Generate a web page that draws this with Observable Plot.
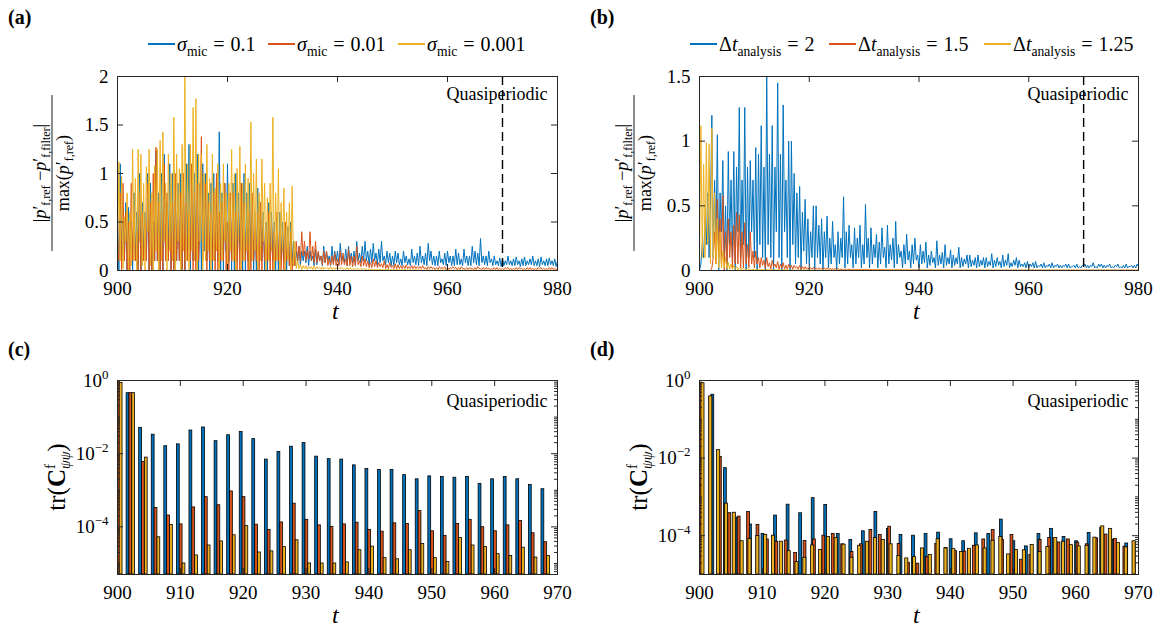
<!DOCTYPE html>
<html><head><meta charset="utf-8">
<script src="https://cdn.jsdelivr.net/npm/d3@7"></script>
<script src="https://cdn.jsdelivr.net/npm/@observablehq/plot@0.6"></script>
<style>
body{margin:0;background:#fff;width:1163px;height:632px;position:relative;overflow:hidden;font-family:"Liberation Serif","Times New Roman",serif;color:#000;}
svg text, svg tspan{font-family:"Liberation Serif","Times New Roman",serif !important;}
.abs{position:absolute;}
.plabel{font-weight:bold;font-size:20px;}
.item{position:absolute;top:33px;display:flex;align-items:center;font-size:20px;white-space:nowrap;line-height:22px;}
.sw{display:inline-block;width:27px;height:1.2px;margin-right:2px;}
.eq{margin:0 6px;}
sub{font-size:0.68em;vertical-align:-0.35em;line-height:0;}
.tlab{font-style:italic;font-size:24px;}
</style></head><body>
<div class="abs plabel" style="left:8px;top:6px">(a)</div>
<div class="abs plabel" style="left:590px;top:6px">(b)</div>
<div class="abs plabel" style="left:8px;top:338px">(c)</div>
<div class="abs plabel" style="left:590px;top:338px">(d)</div>
<span class="item" style="left:148px"><span class="sw" style="background:#0072BD"></span><span><i>σ</i><sub>mic</sub><span class="eq">=</span>0.1</span></span>
<span class="item" style="left:268px"><span class="sw" style="background:#D95319"></span><span><i>σ</i><sub>mic</sub><span class="eq">=</span>0.01</span></span>
<span class="item" style="left:398px"><span class="sw" style="background:#EDB120"></span><span><i>σ</i><sub>mic</sub><span class="eq">=</span>0.001</span></span>
<span class="item" style="left:690px"><span class="sw" style="background:#0072BD"></span><span>Δ<i>t</i><sub>analysis</sub><span class="eq">=</span>2</span></span>
<span class="item" style="left:829px"><span class="sw" style="background:#D95319"></span><span>Δ<i>t</i><sub>analysis</sub><span class="eq">=</span>1.5</span></span>
<span class="item" style="left:984px"><span class="sw" style="background:#EDB120"></span><span>Δ<i>t</i><sub>analysis</sub><span class="eq">=</span>1.25</span></span>
<div class="abs tlab" style="left:332px;top:298px">t</div>
<div class="abs tlab" style="left:913px;top:298px">t</div>
<div class="abs tlab" style="left:332px;top:602px">t</div>
<div class="abs tlab" style="left:913px;top:602px">t</div>
<script>
// ---------- data: panel (a), t = 900 + 0.25*i ----------
const T0 = 900, DT = 0.25;
const sigmaBlueA = [
0.6,0.0,1.1,0.1, 0.5,0.1,0.7,0.0, 0.65,0.2,0.5,0.0, 0.8,0.1,0.6,0.0, 1.0,0.0,0.7,0.2,
0.6,0.1,1.0,0.0, 0.9,0.0,0.5,0.1, 1.23,0.1,0.8,0.0, 1.0,0.0,1.2,0.1, 0.7,0.2,1.1,0.0,
1.0,0.0,0.8,0.1, 0.9,0.1,1.0,0.0, 0.8,0.0,1.1,0.2, 1.3,0.0,0.9,0.1, 1.0,0.1,1.2,0.0,
0.9,0.0,1.1,0.2, 1.0,0.1,0.8,0.0, 0.9,0.0,1.0,0.1, 0.7,0.1,1.43,0.0, 0.8,0.0,0.9,0.2,
1.1,0.1,0.8,0.0, 0.9,0.0,1.0,0.1, 0.8,0.2,0.9,0.0, 1.0,0.0,0.8,0.1, 0.9,0.1,0.7,0.0,
0.6,0.0,0.85,0.2, 0.7,0.1,0.6,0.0, 0.5,0.0,0.7,0.1, 0.6,0.1,0.5,0.0, 0.55,0.0,0.6,0.1,
0.5,0.1,0.4,0.0, 0.45,0.05,0.5,0.1, 0.3,0.05,0.2,0.08, 0.25,0.05,0.2,0.1, 0.2,0.08,0.25,0.05,
0.2,0.1,0.15,0.05, 0.22,0.06,0.18,0.1, 0.15,0.05,0.25,0.08, 0.2,0.1,0.15,0.05, 0.25,0.08,0.2,0.1,
0.2,0.06,0.28,0.1, 0.15,0.08,0.22,0.05, 0.25,0.1,0.18,0.08, 0.2,0.05,0.3,0.1, 0.18,0.08,0.25,0.1,
0.3,0.1,0.2,0.06, 0.22,0.08,0.28,0.1, 0.18,0.06,0.22,0.08, 0.3,0.1,0.15,0.06, 0.2,0.08,0.18,0.05,
0.15,0.05,0.2,0.08, 0.18,0.06,0.12,0.05, 0.2,0.08,0.15,0.06, 0.12,0.05,0.22,0.08, 0.15,0.06,0.18,0.05,
0.25,0.08,0.15,0.06, 0.18,0.05,0.28,0.1, 0.2,0.06,0.15,0.05, 0.15,0.05,0.2,0.08, 0.12,0.06,0.18,0.05,
0.2,0.08,0.15,0.05, 0.15,0.05,0.22,0.06, 0.18,0.06,0.12,0.05, 0.22,0.08,0.15,0.05, 0.15,0.05,0.25,0.08,
0.2,0.06,0.18,0.05, 0.33,0.08,0.15,0.06, 0.15,0.05,0.2,0.08, 0.12,0.05,0.15,0.06, 0.1,0.05,0.13,0.04,
0.12,0.05,0.1,0.06, 0.15,0.06,0.1,0.05, 0.12,0.05,0.14,0.06, 0.1,0.04,0.12,0.05, 0.14,0.05,0.1,0.06,
0.12,0.06,0.15,0.05, 0.1,0.05,0.12,0.04, 0.14,0.06,0.1,0.05, 0.12,0.05,0.13,0.06, 0.1,0.05,0.12,0.04,
0.1];
const sigmaOrangeA = [
0.3,0.1,0.8,0.0, 0.9,0.1,0.6,0.0, 0.5,0.0,0.9,0.1, 0.6,0.1,0.4,0.0, 0.8,0.0,0.6,0.1,
0.5,0.1,0.9,0.0, 0.7,0.0,1.0,0.1, 1.27,0.1,0.7,0.0, 0.6,0.0,1.1,0.1, 0.8,0.1,0.6,0.0,
0.7,0.0,1.0,0.1, 0.5,0.1,0.8,0.0, 1.0,0.0,0.7,0.1, 0.6,0.1,1.1,0.0, 0.8,0.0,0.9,0.1,
0.5,1.38,0.1,0.6, 0.9,0.0,0.7,0.1, 0.6,0.1,0.8,0.0, 1.0,0.0,0.6,0.1, 0.7,0.1,0.9,0.0,
0.5,0.0,0.8,0.1, 0.8,0.1,0.6,0.0, 0.6,0.0,0.9,0.1, 0.7,0.1,0.5,0.0, 0.6,0.0,0.8,0.1,
0.5,0.1,0.6,0.0, 0.7,0.0,0.5,0.1, 0.4,0.1,0.6,0.0, 0.5,0.0,0.4,0.1, 0.6,0.1,0.4,0.0,
0.4,0.0,0.5,0.1, 0.3,0.05,0.4,0.0, 0.2,0.05,0.3,0.1, 0.25,0.1,0.4,0.15, 0.3,0.1,0.2,0.12,
0.4,0.1,0.25,0.08, 0.3,0.08,0.2,0.1, 0.15,0.06,0.2,0.08, 0.2,0.05,0.12,0.06, 0.15,0.06,0.18,0.05,
0.12,0.05,0.2,0.06, 0.18,0.06,0.12,0.05, 0.22,0.05,0.15,0.04, 0.15,0.05,0.25,0.06, 0.1,0.04,0.15,0.05,
0.12,0.04,0.1,0.03, 0.08,0.03,0.12,0.04, 0.1,0.03,0.08,0.04, 0.07,0.03,0.1,0.02, 0.06,0.02,0.08,0.03,
0.05,0.02,0.07,0.02, 0.06,0.02,0.05,0.02, 0.05,0.02,0.06,0.02, 0.04,0.02,0.05,0.02, 0.05,0.02,0.04,0.02,
0.04,0.02,0.05,0.02, 0.03,0.01,0.04,0.02, 0.04,0.02,0.03,0.01, 0.03,0.01,0.04,0.02, 0.03,0.02,0.04,0.01,
0.03,0.01,0.03,0.02, 0.04,0.02,0.03,0.01, 0.03,0.01,0.04,0.02, 0.02,0.01,0.03,0.01, 0.03,0.02,0.02,0.01,
0.03,0.01,0.04,0.02, 0.02,0.01,0.03,0.01, 0.03,0.02,0.02,0.01, 0.02,0.01,0.03,0.01, 0.03,0.01,0.02,0.01,
0.02,0.01,0.03,0.02, 0.03,0.01,0.02,0.01, 0.02,0.01,0.03,0.01, 0.03,0.02,0.02,0.01, 0.02,0.01,0.03,0.01,
0.03,0.01,0.02,0.01, 0.02,0.01,0.03,0.02, 0.03,0.01,0.02,0.01, 0.02,0.01,0.03,0.01, 0.03,0.01,0.02,0.01,
0.02];
const sigmaYellowA = [
0.05,1.12,0.1,0.97, 0.02,0.55,0.3,0.8, 0.0,0.6,0.05,1.25, 0.1,0.95,0.0,1.25, 0.3,1.2,0.05,0.9,
0.0,1.07,0.4,1.25, 0.05,0.8,0.0,1.08, 0.2,1.25,0.0,1.34, 0.1,1.43,0.3,0.9, 0.0,1.2,0.2,1.0,
0.1,1.58,0.0,1.2, 0.3,1.05,0.0,1.3, 0.2,2.0,0.1,1.1, 0.0,1.3,0.2,1.68, 0.1,1.77,0.0,1.2,
0.3,1.2,0.0,1.0, 0.1,1.3,0.2,0.95, 0.0,1.2,0.1,0.85, 0.2,1.1,0.0,0.9, 0.1,1.1,0.3,0.8,
0.0,0.9,0.2,1.25, 0.1,1.0,0.0,1.05, 0.3,1.28,0.0,0.9, 0.1,1.1,0.2,0.95, 0.0,1.53,0.1,1.0,
0.2,1.15,0.0,0.8, 0.1,1.15,0.3,0.9, 0.0,0.75,0.1,0.9, 0.2,1.58,0.0,0.8, 0.1,1.05,0.0,0.7,
0.2,0.85,0.0,0.6, 0.1,0.7,0.0,0.87, 0.05,0.3,0.02,0.1, 0.02,0.06,0.01,0.05, 0.02,0.05,0.01,0.04,
0.02,0.04,0.01,0.05, 0.01,0.04,0.02,0.03, 0.01,0.04,0.01,0.03, 0.02,0.03,0.01,0.04, 0.01,0.03,0.01,0.03,
0.01,0.03,0.02,0.03, 0.01,0.02,0.01,0.03, 0.01,0.03,0.01,0.02, 0.01,0.02,0.01,0.02, 0.01,0.02,0.01,0.02,
0.01,0.015,0.005,0.02, 0.005,0.015,0.005,0.01, 0.005,0.01,0.005,0.015, 0.005,0.01,0.005,0.01, 0.005,0.01,0.005,0.01,
0.005,0.01,0.005,0.01, 0.005,0.008,0.004,0.01, 0.004,0.008,0.004,0.008, 0.004,0.008,0.004,0.008, 0.004,0.008,0.004,0.006,
0.004,0.006,0.003,0.006, 0.003,0.006,0.003,0.006, 0.003,0.006,0.003,0.005, 0.003,0.005,0.003,0.005, 0.003,0.005,0.003,0.005,
0.003,0.005,0.002,0.004, 0.002,0.004,0.002,0.004, 0.002,0.004,0.002,0.004, 0.002,0.004,0.002,0.004, 0.002,0.004,0.002,0.004,
0.002,0.004,0.002,0.003, 0.002,0.003,0.002,0.003, 0.002,0.003,0.002,0.003, 0.002,0.003,0.002,0.003, 0.002,0.003,0.002,0.003,
0.002,0.003,0.002,0.003, 0.002,0.003,0.002,0.003, 0.002,0.003,0.002,0.003, 0.002,0.003,0.002,0.003, 0.002,0.003,0.002,0.003,
0.002,0.003,0.002,0.003, 0.002,0.003,0.002,0.003, 0.002,0.003,0.002,0.003, 0.002,0.003,0.002,0.003, 0.002,0.003,0.002,0.003,
0.002];
// ---------- data: panel (b), t = 900 + 0.25*i ----------
const dtBlueB = [
0.0,0.05,0.2,0.1, 0.4,0.2,0.6,0.1, 0.5,1.2,0.1,0.7, 0.2,1.05,0.0,0.6, 0.3,0.85,0.1,0.5,
0.0,0.92,0.2,0.7, 0.1,0.92,0.0,0.8, 0.3,1.26,0.1,0.7, 0.2,1.26,0.0,0.8, 0.1,0.85,0.3,0.7,
0.1,0.95,0.0,0.9, 0.2,1.12,0.1,0.8, 0.0,1.52,0.2,0.9, 0.1,1.12,0.0,0.8, 0.3,1.45,0.1,0.9,
0.0,1.28,0.3,0.7, 0.1,1.0,0.0,1.0, 0.2,0.75,0.05,0.6, 0.1,0.65,0.0,0.45, 0.15,0.55,0.05,0.4,
0.05,0.3,0.1,0.5, 0.0,0.5,0.1,0.35, 0.05,0.4,0.0,0.3, 0.1,0.42,0.02,0.25, 0.05,0.38,0.1,0.2,
0.0,0.3,0.05,0.25, 0.1,0.57,0.02,0.3, 0.05,0.35,0.1,0.2, 0.02,0.33,0.05,0.25, 0.1,0.35,0.02,0.2,
0.05,0.51,0.1,0.25, 0.02,0.33,0.05,0.2, 0.1,0.28,0.02,0.22, 0.05,0.33,0.1,0.18, 0.02,0.35,0.05,0.2,
0.08,0.25,0.02,0.38, 0.05,0.2,0.1,0.15, 0.02,0.2,0.05,0.28, 0.08,0.15,0.02,0.2, 0.05,0.25,0.08,0.12,
0.02,0.2,0.05,0.15, 0.06,0.22,0.02,0.12, 0.04,0.15,0.06,0.1, 0.02,0.23,0.04,0.12, 0.05,0.14,0.02,0.2,
0.04,0.1,0.05,0.16, 0.02,0.12,0.04,0.1, 0.05,0.18,0.02,0.1, 0.03,0.09,0.05,0.12, 0.02,0.12,0.03,0.08,
0.04,0.1,0.02,0.12, 0.03,0.08,0.04,0.1, 0.02,0.1,0.03,0.07, 0.04,0.13,0.02,0.08, 0.03,0.1,0.04,0.07,
0.02,0.12,0.03,0.08, 0.04,0.13,0.02,0.06, 0.03,0.08,0.04,0.1, 0.02,0.08,0.03,0.05, 0.03,0.06,0.02,0.07,
0.02,0.05,0.03,0.06, 0.02,0.07,0.02,0.04, 0.03,0.05,0.02,0.06, 0.02,0.04,0.03,0.05, 0.02,0.06,0.02,0.04,
0.03,0.05,0.02,0.04, 0.02,0.04,0.03,0.05, 0.02,0.05,0.02,0.03, 0.03,0.04,0.02,0.05, 0.02,0.03,0.02,0.04,
0.03,0.05,0.02,0.04, 0.02,0.04,0.03,0.06, 0.02,0.03,0.02,0.05, 0.03,0.05,0.02,0.04, 0.02,0.04,0.03,0.05,
0.02,0.03,0.02,0.04, 0.03,0.05,0.02,0.03, 0.02,0.04,0.02,0.05, 0.02,0.03,0.03,0.04, 0.02,0.04,0.02,0.05,
0.03];
const dtOrangeB = [
0,0,0,0, 0,0,0,0, 0,0.02,0.1,0.3, 0.05,0.55,0.1,0.4, 0.05,0.58,0.0,0.3,
0.05,0.4,0.1,0.3, 0.02,0.35,0.05,0.45, 0.05,0.43,0.02,0.3, 0.02,0.37,0.05,0.2, 0.02,0.3,0.05,0.15,
0.02,0.15,0.05,0.1, 0.02,0.1,0.04,0.08, 0.02,0.1,0.03,0.06, 0.01,0.08,0.03,0.05, 0.02,0.07,0.01,0.05,
0.02,0.06,0.01,0.04, 0.01,0.05,0.02,0.04, 0.01,0.04,0.02,0.03, 0.01,0.04,0.01,0.03, 0.01,0.03,0.01,0.02,
0.01,0.02,0.01,0.025, 0.01,0.02,0.01,0.02, 0.01,0.02,0.01,0.02, 0.008,0.02,0.008,0.015, 0.008,0.015,0.008,0.015,
0.006,0.015,0.006,0.012, 0.006,0.012,0.006,0.012, 0.005,0.012,0.005,0.01, 0.005,0.01,0.005,0.01, 0.005,0.01,0.005,0.01,
0.004,0.01,0.004,0.008, 0.004,0.008,0.004,0.008, 0.004,0.008,0.004,0.008, 0.004,0.008,0.004,0.006, 0.003,0.006,0.003,0.006,
0.003,0.006,0.003,0.006, 0.003,0.006,0.003,0.005, 0.003,0.005,0.003,0.005, 0.003,0.005,0.003,0.005, 0.003,0.005,0.003,0.005,
0.003,0.005,0.002,0.004, 0.002,0.004,0.002,0.004, 0.002,0.004,0.002,0.004, 0.002,0.004,0.002,0.004, 0.002,0.004,0.002,0.004,
0.002,0.004,0.002,0.003, 0.002,0.003,0.002,0.003, 0.002,0.003,0.002,0.003, 0.002,0.003,0.002,0.003, 0.002,0.003,0.002,0.003,
0.002,0.003,0.002,0.003, 0.002,0.003,0.002,0.003, 0.002,0.003,0.002,0.003, 0.002,0.003,0.002,0.003, 0.002,0.003,0.002,0.003,
0.002,0.003,0.002,0.003, 0.002,0.003,0.002,0.003, 0.002,0.003,0.002,0.003, 0.002,0.003,0.002,0.003, 0.002,0.003,0.002,0.003,
0.002,0.003,0.002,0.003, 0.002,0.003,0.002,0.003, 0.002,0.003,0.002,0.003, 0.002,0.003,0.002,0.003, 0.002,0.003,0.002,0.003,
0.002,0.003,0.002,0.003, 0.002,0.003,0.002,0.003, 0.002,0.003,0.002,0.003, 0.002,0.003,0.002,0.003, 0.002,0.003,0.002,0.003,
0.002,0.003,0.002,0.003, 0.002,0.003,0.002,0.003, 0.002,0.003,0.002,0.003, 0.002,0.003,0.002,0.003, 0.002,0.003,0.002,0.003,
0.002,0.003,0.002,0.003, 0.002,0.003,0.002,0.003, 0.002,0.003,0.002,0.003, 0.002,0.003,0.002,0.003, 0.002,0.003,0.002,0.003,
0.002];
const dtYellowB = [
0.05,1.12,0.1,0.82, 0.1,0.99,0.2,0.98, 0.05,1.1,0.1,0.6, 0.05,0.4,0.02,0.3, 0.02,0.15,0.02,0.1,
0.01,0.06,0.01,0.05, 0.01,0.04,0.01,0.03, 0.005,0.02,0.005,0.02, 0.005,0.015,0.005,0.015, 0.005,0.01,0.005,0.01,
0.004,0.01,0.004,0.008, 0.004,0.008,0.004,0.008, 0.003,0.008,0.003,0.006, 0.003,0.006,0.003,0.006, 0.003,0.006,0.003,0.005,
0.003,0.005,0.003,0.005, 0.002,0.005,0.002,0.004, 0.002,0.004,0.002,0.004, 0.002,0.004,0.002,0.004, 0.002,0.004,0.002,0.003,
0.002,0.003,0.002,0.003, 0.002,0.003,0.002,0.003, 0.002,0.003,0.002,0.003, 0.002,0.003,0.002,0.003, 0.002,0.003,0.002,0.003,
0.002,0.003,0.002,0.003, 0.002,0.003,0.002,0.003, 0.002,0.003,0.002,0.003, 0.002,0.003,0.002,0.003, 0.002,0.003,0.002,0.003,
0.002,0.003,0.002,0.003, 0.002,0.003,0.002,0.003, 0.002,0.003,0.002,0.003, 0.002,0.003,0.002,0.003, 0.002,0.003,0.002,0.003,
0.002,0.003,0.002,0.003, 0.002,0.003,0.002,0.003, 0.002,0.003,0.002,0.003, 0.002,0.003,0.002,0.003, 0.002,0.003,0.002,0.003,
0.002,0.003,0.002,0.003, 0.002,0.003,0.002,0.003, 0.002,0.003,0.002,0.003, 0.002,0.003,0.002,0.003, 0.002,0.003,0.002,0.003,
0.002,0.003,0.002,0.003, 0.002,0.003,0.002,0.003, 0.002,0.003,0.002,0.003, 0.002,0.003,0.002,0.003, 0.002,0.003,0.002,0.003,
0.002,0.003,0.002,0.003, 0.002,0.003,0.002,0.003, 0.002,0.003,0.002,0.003, 0.002,0.003,0.002,0.003, 0.002,0.003,0.002,0.003,
0.002,0.003,0.002,0.003, 0.002,0.003,0.002,0.003, 0.002,0.003,0.002,0.003, 0.002,0.003,0.002,0.003, 0.002,0.003,0.002,0.003,
0.002,0.003,0.002,0.003, 0.002,0.003,0.002,0.003, 0.002,0.003,0.002,0.003, 0.002,0.003,0.002,0.003, 0.002,0.003,0.002,0.003,
0.002,0.003,0.002,0.003, 0.002,0.003,0.002,0.003, 0.002,0.003,0.002,0.003, 0.002,0.003,0.002,0.003, 0.002,0.003,0.002,0.003,
0.002,0.003,0.002,0.003, 0.002,0.003,0.002,0.003, 0.002,0.003,0.002,0.003, 0.002,0.003,0.002,0.003, 0.002,0.003,0.002,0.003,
0.002,0.003,0.002,0.003, 0.002,0.003,0.002,0.003, 0.002,0.003,0.002,0.003, 0.002,0.003,0.002,0.003, 0.002,0.003,0.002,0.003,
0.002];
// ---------- data: panel (c), groups at t = 900, 902, ..., 968 ----------
const groupTimesC = d3.range(900, 969, 2);
const traceBlueC = [1.0,0.45,0.051,0.033,0.016,0.018,0.043,0.052,0.022,0.032,0.039,0.025,0.0069,0.0112,0.0155,0.0195,0.0083,0.0071,0.0069,0.0048,0.0038,0.0036,0.0036,0.0026,0.002,0.0024,0.0023,0.0022,0.0023,0.0015,0.002,0.0023,0.002,0.0014,0.00107];
const traceOrangeC = [1.0,0.45,0.0059,3.3e-4,2.05e-4,1.17e-4,3.4e-4,6.5e-4,3.9e-4,9.3e-4,6.5e-4,1.15e-4,8.3e-5,1.32e-4,4.3e-4,1.56e-4,1.1e-4,1.0e-4,1.17e-4,1.3e-4,8.3e-5,7.4e-5,1.25e-4,1.2e-4,2.7e-4,7.6e-5,5.7e-5,1.2e-4,1.56e-4,9.8e-5,7.6e-5,1.1e-4,1.45e-4,6.7e-5,3.8e-5];
const traceYellowC = [0.85,0.45,0.0078,5.2e-5,1.12e-4,1.0e-5,1.66e-5,3.1e-5,4.0e-5,5.9e-5,1.05e-4,2.0e-5,2.14e-5,2.8e-5,4.3e-5,1.0e-5,1.0e-5,1.0e-5,1.07e-5,2.3e-5,2.9e-5,1.4e-5,1.3e-5,2.3e-5,3.4e-5,1.4e-5,1.1e-5,5.0e-5,3.1e-5,2.8e-5,1.8e-5,1.6e-5,2.7e-5,1.45e-5,1.6e-5];
// ---------- data: panel (d) ----------
const timesBlueD = d3.range(900, 969, 2);
const timesOrangeD = d3.range(0, 47).map(k => 900 + 1.5 * k);
const timesYellowD = d3.range(0, 56).map(k => 900 + 1.25 * k);
const traceBlueD = [0.87,0.43,0.0055,2.9e-4,1.95e-4,1.1e-4,3.3e-4,6.3e-4,3.8e-4,9.3e-4,6.2e-4,1.1e-4,7.8e-5,1.3e-4,4.1e-4,1.5e-4,1.04e-4,1.0e-4,1.1e-4,1.2e-4,8.1e-5,7.2e-5,1.15e-4,1.1e-4,2.6e-4,7.2e-5,5.3e-5,1.1e-4,1.5e-4,9.3e-5,7.2e-5,1.17e-4,1.6e-4,7.9e-5,6.3e-5];
const traceOrangeD = [0.85,0.38,0.0107,3.8e-4,3.1e-4,4.1e-4,1.9e-4,8e-5,7e-5,7.5e-5,3.6e-5,7.3e-5,8e-5,1.0e-4,1.1e-4,6e-5,3.8e-5,6e-5,1.4e-4,1.04e-4,1.7e-4,6.1e-5,2e-5,1.9e-5,2.8e-5,6.1e-5,4.8e-5,4e-5,3.9e-5,5.5e-5,8e-5,1.4e-4,7.8e-5,1.04e-4,2.4e-5,3.2e-5,7.8e-5,8.7e-5,6.7e-5,8e-5,6.6e-5,6e-5,8.6e-5,1.07e-4,8.2e-5,5.2e-5,6.8e-5];
const traceYellowD = [0.85,0.39,0.016,6.7e-4,3.9e-4,7.2e-5,8.3e-5,9.8e-5,1.05e-4,1.0e-4,7e-5,4e-5,2.1e-5,2.7e-5,5.6e-5,4.3e-5,9.3e-5,8.7e-5,5.9e-5,2.7e-5,5.5e-5,7e-5,8.7e-5,7.8e-5,6e-5,3e-5,2.6e-5,2.8e-5,4.7e-5,3.2e-5,8.1e-5,4.7e-5,4.5e-5,3.8e-5,4.6e-5,5.6e-5,4.7e-5,7.4e-5,9.3e-5,3.3e-5,4.3e-5,4.2e-5,5.8e-5,3.8e-5,5.1e-5,8.7e-5,7e-5,5.7e-5,5.3e-5,5.5e-5,8.9e-5,1.74e-4,1.5e-4,6.5e-5,5e-5,7.2e-5];

// ---------- styling ----------
const BLUE = "#0072BD", ORANGE = "#D95319", YELLOW = "#EDB120", AX = "#262626";
const FONT = "'Liberation Serif','Times New Roman',serif";

function place(node, left, top) {
  const d = document.createElement("div");
  d.className = "abs"; d.style.left = left + "px"; d.style.top = top + "px";
  d.appendChild(node); document.body.appendChild(d);
}

function frameMarks(g, xt, yt, yFmt, quasiDy, minorY) {
  const pw = g.R - g.L, ph = g.B - g.T;
  const m = [
    Plot.frame({stroke: AX, strokeWidth: 1}),
    Plot.tickX(xt, {x: d => d, stroke: AX, insetTop: ph - 6}),
    Plot.tickX(xt, {x: d => d, stroke: AX, insetBottom: ph - 6}),
    Plot.tickY(yt, {y: d => d, stroke: AX, insetRight: pw - 6}),
    Plot.tickY(yt, {y: d => d, stroke: AX, insetLeft: pw - 6}),
    Plot.axisX(xt, {tickSize: 0, tickPadding: 11, tickFormat: d => String(d), label: null, fill: "#000"}),
    Plot.axisY(yt, {tickSize: 0, tickPadding: 9, tickFormat: yFmt, label: null, fill: "#000"}),
    Plot.text(["Quasiperiodic"], {frameAnchor: "top-right", lineAnchor: "middle", dx: -10, dy: quasiDy, textAnchor: "end", fontSize: 18, fill: "#000"})
  ];
  if (minorY) {
    m.push(Plot.tickY(minorY, {y: d => d, stroke: AX, insetRight: pw - 3}));
    m.push(Plot.tickY(minorY, {y: d => d, stroke: AX, insetLeft: pw - 3}));
  }
  return m;
}

const M = {l: 100, r: 20, t: 10, b: 60};
function makePlot(g, x, y, marks) {
  return Plot.plot({
    width: (g.R - g.L) + M.l + M.r, height: (g.B - g.T) + M.t + M.b,
    marginLeft: M.l, marginRight: M.r, marginTop: M.t, marginBottom: M.b,
    style: {fontFamily: FONT, fontSize: "19px", background: "transparent", color: "#000", overflow: "visible"},
    x, y, marks
  });
}

function linePanel(g, series, ymax, yt) {
  const rows = s => s.map((v, i) => ({t: T0 + i * DT, v}));
  const marks = series.map(([vals, col]) => Plot.line(rows(vals), {x: "t", y: "v", stroke: col, strokeWidth: 1, clip: true}));
  marks.push(Plot.ruleX([970], {stroke: "#000", strokeWidth: 1.4, strokeDasharray: "9,5"}));
  const xt = [900, 920, 940, 960, 980];
  marks.push(...frameMarks(g, xt, yt, d => String(d), 18, null));
  const svg = makePlot(g, {domain: [900, 980]}, {domain: [0, ymax]}, marks);
  place(svg, g.L - M.l, g.T - M.t);
}

function barPanel(g, ymin, bars) {
  const marks = bars.map(([times, vals, o1, o2, col]) =>
    Plot.rect(times.map((t, i) => ({t, v: vals[i]})), {
      x1: d => d.t + o1, x2: d => d.t + o2, y1: ymin, y2: "v",
      fill: col, stroke: "#000", strokeWidth: 0.8, clip: true
    }));
  const xt = d3.range(900, 971, 10);
  const yt = [1e-4, 1e-2, 1];
  const minor = [];
  for (let e = -6; e <= -1; e++) for (let k = 1; k <= 9; k++) {
    const v = k * Math.pow(10, e);
    if (v > ymin && v < 1 && !yt.some(u => Math.abs(u - v) / v < 1e-6)) minor.push(v);
  }
  marks.push(...frameMarks(g, xt, yt, d => (d === 1 ? "0" : "−" + Math.round(-Math.log10(d))), 21, minor));
  const svg = makePlot(g, {domain: [900, 970]}, {type: "log", domain: [ymin, 1]}, marks);
  d3.select(svg).selectAll('g[aria-label="y-axis tick label"] text').each(function () {
    const e = this.textContent; const s = d3.select(this);
    s.text("10"); s.append("tspan").attr("dy", "-0.6em").attr("font-size", "0.68em").text(e);
  });
  place(svg, g.L - M.l, g.T - M.t);
}

const GA = {L: 117, R: 557, T: 76, B: 270};
const GB = {L: 699, R: 1138, T: 76, B: 270};
const GC = {L: 117, R: 557, T: 380, B: 574};
const GD = {L: 699, R: 1138, T: 380, B: 574};

linePanel(GA, [[sigmaBlueA, BLUE], [sigmaOrangeA, ORANGE], [sigmaYellowA, YELLOW]], 2, [0, 0.5, 1, 1.5, 2]);
linePanel(GB, [[dtBlueB, BLUE], [dtOrangeB, ORANGE], [dtYellowB, YELLOW]], 1.5, [0, 0.5, 1, 1.5]);
barPanel(GC, 5e-6, [
  [groupTimesC, traceBlueC, -0.55, -0.1, BLUE],
  [groupTimesC, traceOrangeC, -0.1, 0.35, ORANGE],
  [groupTimesC, traceYellowC, 0.35, 0.8, YELLOW]
]);
barPanel(GD, 1e-5, [
  [timesBlueD, traceBlueD, -0.1, 0.35, BLUE],
  [timesOrangeD, traceOrangeD, 0.1, 0.55, ORANGE],
  [timesYellowD, traceYellowD, 0.3, 0.8, YELLOW]
]);

// ---------- rotated y-axis titles ----------
const ns = "http://www.w3.org/2000/svg";
const ov = document.createElementNS(ns, "svg");
ov.setAttribute("width", 1163); ov.setAttribute("height", 632);
ov.style.position = "absolute"; ov.style.left = "0"; ov.style.top = "0"; ov.style.pointerEvents = "none";
document.body.appendChild(ov);
const o = d3.select(ov).attr("font-family", FONT);
function fracLabel(cx, cy) {
  const g = o.append("g").attr("transform", `translate(${cx},${cy}) rotate(-90)`).attr("font-size", 18);
  const n = g.append("text").attr("text-anchor", "middle").attr("y", -6);
  n.append("tspan").text("|");
  n.append("tspan").attr("font-style", "italic").text("p");
  n.append("tspan").text("′");
  n.append("tspan").attr("font-size", 12).attr("dy", 4).text("f,ref");
  n.append("tspan").attr("dy", -4).text(" −");
  n.append("tspan").attr("font-style", "italic").text("p");
  n.append("tspan").text("′");
  n.append("tspan").attr("font-size", 12).attr("dy", 4).text("f,filter");
  n.append("tspan").attr("dy", -4).text("|");
  g.append("line").attr("x1", -78).attr("x2", 78).attr("stroke", "#000").attr("stroke-width", 0.9);
  const dn = g.append("text").attr("text-anchor", "middle").attr("y", 17);
  dn.append("tspan").text("max(");
  dn.append("tspan").attr("font-style", "italic").text("p");
  dn.append("tspan").text("′");
  dn.append("tspan").attr("font-size", 12).attr("dy", 4).text("f,ref");
  dn.append("tspan").attr("dy", -4).text(")");
}
fracLabel(52, 173);
fracLabel(634, 173);
function trLabel(cx, cy) {
  const t = o.append("text").attr("transform", `translate(${cx},${cy}) rotate(-90)`).attr("text-anchor", "middle").attr("font-size", 25);
  t.append("tspan").text("tr(");
  t.append("tspan").attr("font-weight", "bold").text("C");
  t.append("tspan").attr("font-size", 15).attr("dy", -10).text("f");
  t.append("tspan").attr("font-size", 14).attr("font-style", "italic").attr("dx", -5).attr("dy", 15).text("ψψ");
  t.append("tspan").attr("dy", -5).text(")");
}
trLabel(65, 477);
trLabel(647, 477);
</script>
</body></html>
